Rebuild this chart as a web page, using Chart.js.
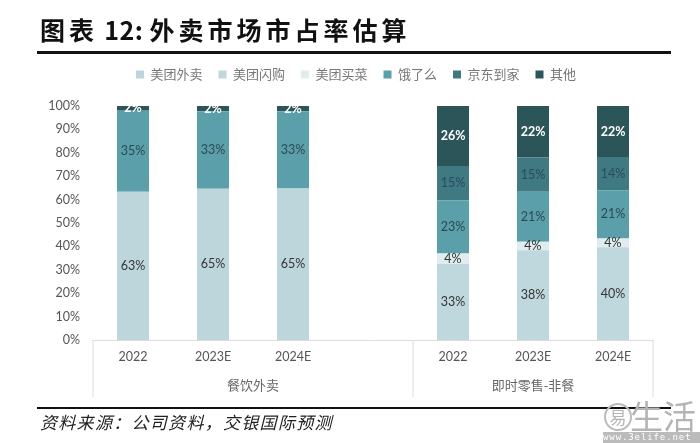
<!DOCTYPE html>
<html>
<head>
<meta charset="utf-8">
<script src="https://cdn.jsdelivr.net/npm/chart.js@4"></script>
<style>
  html, body { margin: 0; padding: 0; background: #fff; }
  #wrap { position: relative; width: 700px; height: 443px; overflow: hidden; font-family: "Noto Sans CJK SC", sans-serif; }
  #chart { position: absolute; left: 0; top: 0; }
  #title { position: absolute; left: 40px; top: 10px; font-size: 25px; line-height: 38px; font-weight: 700; letter-spacing: 4px; color: #111; white-space: nowrap; }
  #title span { letter-spacing: 0.5px; }
  .rule { position: absolute; left: 37px; width: 634px; height: 2.5px; background: #111; }
  #source { position: absolute; left: 40px; top: 409px; font-size: 17px; line-height: 26px; font-style: italic; letter-spacing: 2.6px; color: #222; white-space: nowrap; }
  #wmark { position: absolute; left: 630px; top: 396px; font-size: 33px; line-height: 38px; color: #b4b4b4; white-space: nowrap; }
  #wurl { position: absolute; left: 603px; top: 432px; width: 97px; height: 11px; background: #bbb; color: #fff; font: 9px/11px "DejaVu Sans Mono", monospace; letter-spacing: 0.9px; white-space: nowrap; overflow: hidden; }
  #wlogo { position: absolute; left: 604px; top: 403px; width: 28px; height: 28px; border: 2px solid #bbb; border-radius: 50%; box-sizing: border-box; color: #b4b4b4; font-size: 17px; line-height: 23px; text-align: center; }
</style>
</head>
<body>
<div id="wrap">
  <canvas id="chart" width="700" height="443"></canvas>
  <div id="title">图表<span> 12: </span>外卖市场市占率估算</div>
  <div class="rule" style="top:51px"></div>
  <div class="rule" style="top:406.5px"></div>
  <div id="source" style="letter-spacing:1.3px">资料来源：公司资料，交银国际预测</div>
  <div id="wlogo">易</div>
  <div id="wmark">生活</div>
  <div id="wurl">www.3elife.net</div>
</div>
<script>
const categories = ['2022', '2023E', '2024E', '', '2022', '2023E', '2024E'];
const groups = ['餐饮外卖', '即时零售-非餐'];

// 4th slot is the gap between the two groups
const meituanWaimai = [63.4, 64.6, 64.7, null, null, null, null];
const meituanShangou = [null, null, null, null, 32.6, 38.4, 39.6];
const meituanMaicai = [null, null, null, null, 4.4, 3.6, 3.8];
const eleme = [34.6, 33.2, 33.1, null, 22.6, 21.4, 20.6];
const jingdong = [null, null, null, null, 14.8, 14.6, 14.2];
const others = [2.0, 2.2, 2.2, null, 25.6, 22.0, 21.8];

const tickFont = '"Lato", "Open Sans", sans-serif';

// legend sits a bit right of centre and leaves a gap above the bars
const legendNudge = {
  id: 'legendNudge',
  beforeLayout(chart) {
    const legend = chart.legend;
    if (legend.nudged) return;
    legend.nudged = true;
    const fit = legend.fit;
    legend.fit = function () {
      fit.call(this);
      this.height += 15;
    };
  },
  afterLayout(chart) {
    chart.legend.left += 6;
    chart.legend.right += 6;
  },
};

// group dividers under the axis + group names
const groupAxis = {
  id: 'groupAxis',
  afterDraw(chart) {
    const ctx = chart.ctx;
    const x = chart.scales.x;
    const bottom = chart.scales.y.bottom;
    const step = x.getPixelForValue(1) - x.getPixelForValue(0);
    const mid = x.getPixelForValue(4) - step / 2;
    ctx.save();
    ctx.strokeStyle = '#dcdcdc';
    ctx.lineWidth = 1;
    [x.left, mid, x.right].forEach((px) => {
      ctx.beginPath();
      ctx.moveTo(px, bottom);
      ctx.lineTo(px, bottom + 57);
      ctx.stroke();
    });
    ctx.fillStyle = '#666';
    ctx.font = '13px "Noto Sans CJK SC"';
    ctx.textAlign = 'center';
    ctx.textBaseline = 'middle';
    ctx.fillText(groups[0], (x.left + mid) / 2, bottom + 45);
    ctx.fillText(groups[1], (mid + x.right) / 2, bottom + 45);
    ctx.restore();
  },
};

// percent labels in the middle of each segment
const barLabels = {
  id: 'barLabels',
  afterDatasetsDraw(chart) {
    const ctx = chart.ctx;
    ctx.save();
    ctx.textAlign = 'center';
    ctx.textBaseline = 'middle';
    chart.data.datasets.forEach((ds, i) => {
      chart.getDatasetMeta(i).data.forEach((bar, j) => {
        if (ds.data[j] == null) return;
        ctx.fillStyle = ds.labelColor;
        ctx.font = (ds.labelColor === '#fff' ? 'bold ' : '') + '12.5px ' + tickFont;
        ctx.fillText(Math.round(ds.data[j]) + '%', bar.x, bar.getCenterPoint().y);
      });
    });
    ctx.restore();
  },
};

new Chart(document.getElementById('chart'), {
  type: 'bar',
  plugins: [legendNudge, groupAxis, barLabels],
  data: {
    labels: categories,
    datasets: [
      { label: '美团外卖', data: meituanWaimai, backgroundColor: '#bdd6dc', labelColor: '#333' },
      { label: '美团闪购', data: meituanShangou, backgroundColor: '#bfd8dd', labelColor: '#333' },
      { label: '美团买菜', data: meituanMaicai, backgroundColor: '#e0edee', labelColor: '#333' },
      { label: '饿了么', data: eleme, backgroundColor: '#5a9fa9', labelColor: '#2b4a55' },
      { label: '京东到家', data: jingdong, backgroundColor: '#3f7a83', labelColor: '#2b4a60' },
      { label: '其他', data: others, backgroundColor: '#2b5559', labelColor: '#fff' },
    ],
  },
  options: {
    responsive: false,
    animation: false,
    devicePixelRatio: 1,
    layout: { padding: { left: 47, right: 47, top: 52, bottom: 0 } },
    datasets: { bar: { barPercentage: 0.4, categoryPercentage: 1 } },
    plugins: {
      tooltip: { enabled: false },
      legend: {
        position: 'top',
        labels: {
          usePointStyle: true,
          pointStyle: 'rect',
          boxWidth: 8,
          boxHeight: 8,
          padding: 16,
          color: '#777',
          font: { family: '"Noto Sans CJK SC"', size: 13 },
        },
      },
    },
    scales: {
      x: {
        stacked: true,
        grid: { display: false, drawTicks: false },
        border: { color: '#dcdcdc' },
        ticks: { color: '#555', font: { family: tickFont, size: 12.5 }, padding: 9, maxRotation: 0, autoSkip: false },
        afterFit(scale) { scale.height = 103; },
      },
      y: {
        stacked: true,
        min: 0,
        max: 100,
        grid: { display: false, drawTicks: false },
        border: { display: false },
        ticks: { stepSize: 10, color: '#555', font: { family: tickFont, size: 12.5 }, padding: 13, callback: (v) => v + '%' },
        afterFit(scale) { scale.width = 46; },
      },
    },
  },
});
</script>
</body>
</html>
